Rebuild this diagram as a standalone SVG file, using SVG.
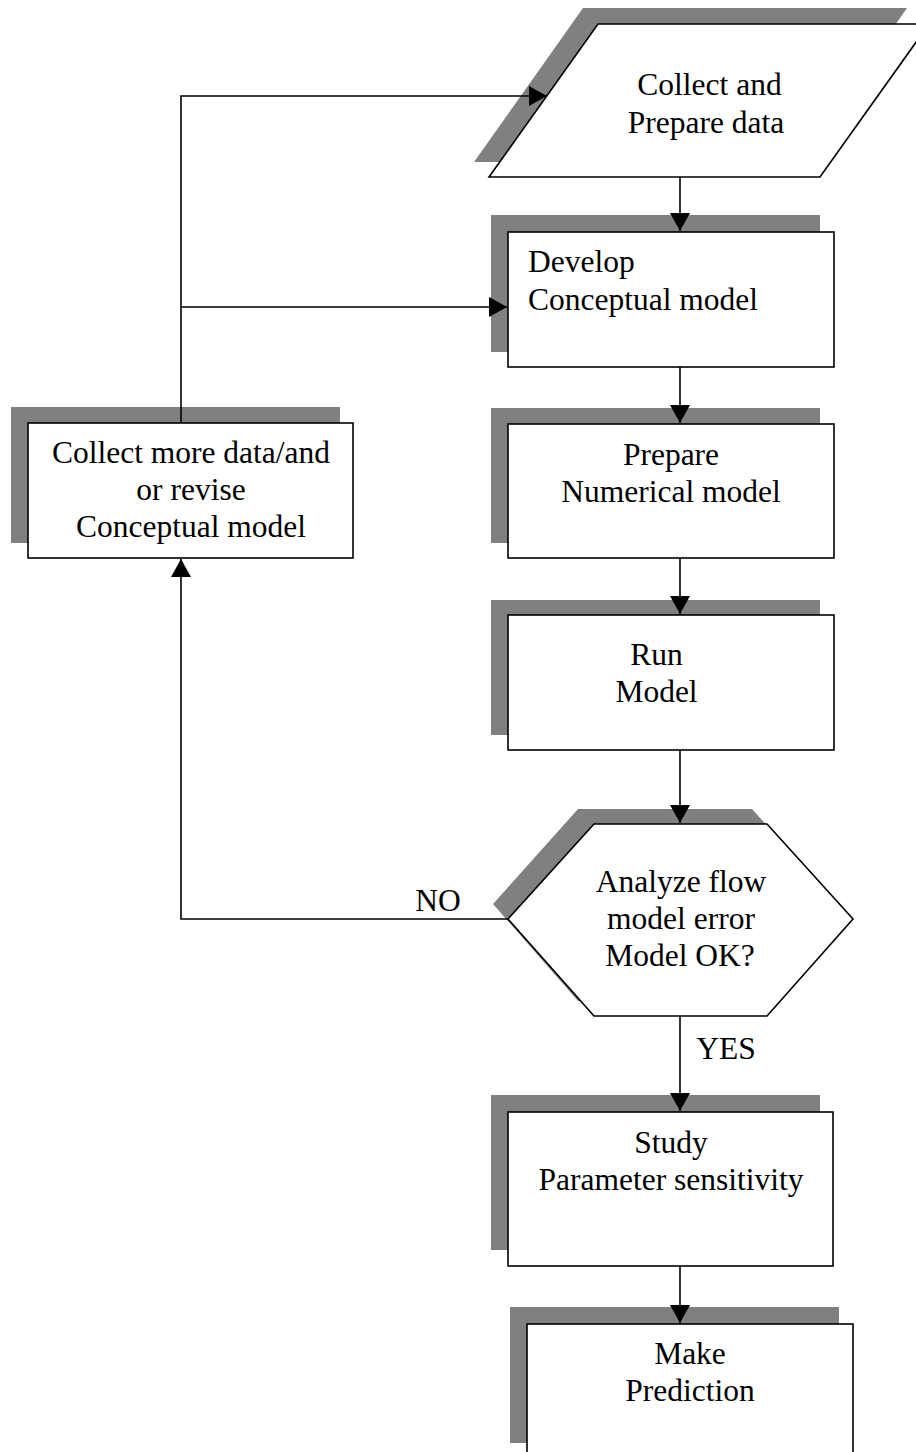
<svg xmlns="http://www.w3.org/2000/svg" width="916" height="1452" viewBox="0 0 916 1452">
<defs>
<style>
.sh{fill:#808080;stroke:none}
.bx{fill:#fff;stroke:#000;stroke-width:1.6}
text{font-family:'Liberation Serif','Times New Roman',Times,serif;font-size:31.5px;fill:#000}
.c{text-anchor:middle}
.ln{fill:none;stroke:#000;stroke-width:1.6}
</style>
<marker id="ah" markerWidth="20" markerHeight="22" refX="18" refY="10" orient="auto" markerUnits="userSpaceOnUse" viewBox="0 0 20 22">
<path d="M0,0 L18,10 L0,20 Z" fill="#000"/>
</marker>
</defs>
<rect width="916" height="1452" fill="#fff"/>

<g id="collect-prepare">
<polygon class="sh" points="583,8 907,8 800,162 474,162"/>
<polygon class="bx" points="598,24 929,24 820,177 489,177"/>
<text class="c" x="709.5" y="95">Collect and</text>
<text class="c" x="706" y="133">Prepare data</text>
</g>

<g id="develop">
<rect class="sh" x="491" y="215" width="329" height="137"/>
<rect class="bx" x="508" y="232" width="326" height="135"/>
<text x="528" y="272">Develop</text>
<text x="528" y="310">Conceptual model</text>
</g>

<g id="collect-more">
<rect class="sh" x="11" y="407" width="329" height="136"/>
<rect class="bx" x="28" y="423" width="325" height="135"/>
<text class="c" x="191" y="463">Collect more data/and</text>
<text class="c" x="191" y="500">or revise</text>
<text class="c" x="191" y="537">Conceptual model</text>
</g>

<g id="prepare">
<rect class="sh" x="491" y="408" width="329" height="135"/>
<rect class="bx" x="508" y="424" width="326" height="134"/>
<text class="c" x="671" y="465">Prepare</text>
<text class="c" x="671" y="502">Numerical model</text>
</g>

<g id="run">
<rect class="sh" x="491" y="600" width="329" height="135"/>
<rect class="bx" x="508" y="615" width="326" height="135"/>
<text class="c" x="656.5" y="665">Run</text>
<text class="c" x="656.5" y="702">Model</text>
</g>

<g id="analyze">
<polygon class="sh" points="578,809 752,809 838,904 752,1001 578,1001 493,904"/>
<polygon class="bx" points="594,824 767,824 853,919 767,1016 594,1016 508,919"/>
<text class="c" x="681" y="892">Analyze flow</text>
<text class="c" x="681" y="929">model error</text>
<text class="c" x="680" y="966">Model OK?</text>
</g>

<g id="study">
<rect class="sh" x="491" y="1095" width="329" height="155"/>
<rect class="bx" x="508" y="1112" width="325" height="154"/>
<text class="c" x="671" y="1153">Study</text>
<text class="c" x="671" y="1190">Parameter sensitivity</text>
</g>

<g id="predict">
<rect class="sh" x="510" y="1307" width="329" height="136"/>
<rect class="bx" x="527" y="1324" width="326" height="140"/>
<text class="c" x="690" y="1364">Make</text>
<text class="c" x="690" y="1401">Prediction</text>
</g>

<g id="connectors">
<path class="ln" d="M181,423 V96 H547" marker-end="url(#ah)"/>
<path class="ln" d="M181,307 H507" marker-end="url(#ah)"/>
<path class="ln" d="M508,919 H181 V559" marker-end="url(#ah)"/>
<path class="ln" d="M680,177 V231" marker-end="url(#ah)"/>
<path class="ln" d="M680,367 V423" marker-end="url(#ah)"/>
<path class="ln" d="M680,558 V614" marker-end="url(#ah)"/>
<path class="ln" d="M680,750 V823" marker-end="url(#ah)"/>
<path class="ln" d="M680,1016 V1111" marker-end="url(#ah)"/>
<path class="ln" d="M680,1266 V1323" marker-end="url(#ah)"/>
<text class="c" x="438" y="911">NO</text>
<text class="c" x="726" y="1059">YES</text>
</g>
</svg>
